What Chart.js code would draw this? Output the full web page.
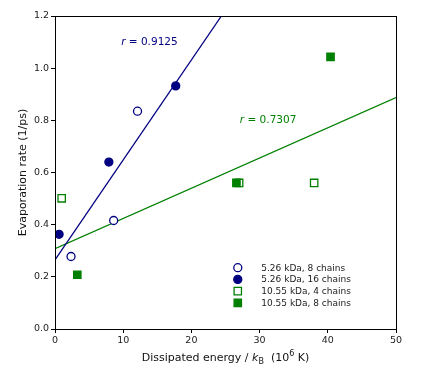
<!DOCTYPE html>
<html>
<head>
<meta charset="utf-8">
<script src="https://cdn.jsdelivr.net/npm/chart.js@4"></script>
<style>
  html, body { margin: 0; padding: 0; background: #fff; }
  #wrap { width: 423px; height: 373px; }
</style>
</head>
<body>
<div id="wrap"><canvas id="evapChart" width="423" height="373"></canvas></div>
<script>
// energies (10^6 K) and evaporation rates (1/ps) per system
const small8X = [2.35, 8.6, 12.1];
const small8Y = [0.278, 0.416, 0.835];
const small16X = [0.6, 7.9, 17.7];
const small16Y = [0.363, 0.640, 0.932];
const large4X = [0.98, 27.0, 38.0];
const large4Y = [0.501, 0.560, 0.560];
const large8X = [3.27, 26.6, 40.4];
const large8Y = [0.208, 0.560, 1.043];

// fit line end points
const blueFitX = [0, 24.4];
const blueFitY = [0.265, 1.2];
const greenFitX = [0, 50];
const greenFitY = [0.308, 0.887];

const seriesLabels = ['5.26 kDa, 8 chains', '5.26 kDa, 16 chains', '10.55 kDa, 4 chains', '10.55 kDa, 8 chains'];
const xTicks = [0, 10, 20, 30, 40, 50];
const yTicks = [0.0, 0.2, 0.4, 0.6, 0.8, 1.0, 1.2];

const NAVY = '#000080';
const GREEN = '#008000';
const FONT = "'DejaVu Sans', sans-serif";

function pts(xs, ys) {
    return xs.map((x, i) => ({x: x, y: ys[i]}));
}

window.addEventListener('load', function() {
    scatterGraph();
});

function scatterGraph() {

    const frame = {
        id: 'frame',
        afterDraw(chart) {
            const ctx = chart.ctx;
            const a = chart.chartArea;
            ctx.save();
            ctx.strokeStyle = '#000';
            ctx.lineWidth = 1;
            ctx.strokeRect(a.left + 0.5, a.top + 0.5, a.right - a.left, a.bottom - a.top);

            // r annotations
            const xs = chart.scales.x, ys = chart.scales.y;
            function rText(label, x, y, color) {
                ctx.fillStyle = color;
                ctx.textBaseline = 'middle';
                ctx.textAlign = 'left';
                ctx.font = 'italic 10.5px ' + FONT;
                const w1 = ctx.measureText('r').width;
                ctx.fillText('r', x, y);
                ctx.font = '10.5px ' + FONT;
                ctx.fillText(' = ' + label, x + w1, y);
            }
            rText('0.9125', xs.getPixelForValue(9.7), ys.getPixelForValue(1.1), NAVY);
            rText('0.7307', xs.getPixelForValue(27.1), ys.getPixelForValue(0.8), GREEN);

            // legend
            const lx = xs.getPixelForValue(26.8);
            let ly = ys.getPixelForValue(0.235);
            chart.data.datasets.filter(d => d.legendRow !== undefined).forEach(d => {
                const y = ly + d.legendRow * 11.7;
                ctx.save();
                ctx.strokeStyle = d.borderColor;
                ctx.fillStyle = d.backgroundColor;
                ctx.lineWidth = d.borderWidth;
                Chart.helpers.drawPoint(ctx, {pointStyle: d.pointStyle, radius: d.pointRadius, borderWidth: d.borderWidth}, lx, y);
                ctx.restore();
                ctx.fillStyle = '#222';
                ctx.font = '9px ' + FONT;
                ctx.textAlign = 'left';
                ctx.textBaseline = 'middle';
                ctx.fillText(d.label, lx + 23.5, y + 0.5);
            });

            // axis titles
            ctx.fillStyle = '#111';
            ctx.textBaseline = 'alphabetic';
            ctx.textAlign = 'left';
            const parts = [
                ['Dissipated energy / ', '11px ' + FONT, 0],
                ['k', 'italic 11px ' + FONT, 0],
                ['B', '8px ' + FONT, 3],
                ['  (10', '11px ' + FONT, 0],
                ['6', '8px ' + FONT, -5],
                [' K)', '11px ' + FONT, 0]
            ];
            let total = 0;
            parts.forEach(p => { ctx.font = p[1]; total += ctx.measureText(p[0]).width; });
            let cx = (a.left + a.right) / 2 - total / 2;
            parts.forEach(p => {
                ctx.font = p[1];
                ctx.fillText(p[0], cx, 361 + p[2]);
                cx += ctx.measureText(p[0]).width;
            });

            ctx.translate(26, (a.top + a.bottom) / 2);
            ctx.rotate(-Math.PI / 2);
            ctx.textAlign = 'center';
            ctx.font = '11px ' + FONT;
            ctx.fillText('Evaporation rate (1/ps)', 0, 0);
            ctx.restore();
        }
    };

    const ctx = document.getElementById('evapChart').getContext('2d');
    const myChart = new Chart(ctx, {
        type: 'scatter',
        data: {
            datasets: [
                {
                    label: seriesLabels[0],
                    data: pts(small8X, small8Y),
                    pointStyle: 'circle',
                    pointRadius: 4,
                    borderWidth: 1.3,
                    borderColor: NAVY,
                    backgroundColor: '#fff',
                    legendRow: 0,
                    order: 1,
                },
                {
                    label: seriesLabels[1],
                    data: pts(small16X, small16Y),
                    pointStyle: 'circle',
                    pointRadius: 4,
                    borderWidth: 1.3,
                    borderColor: NAVY,
                    backgroundColor: NAVY,
                    legendRow: 1,
                    order: 1,
                },
                {
                    label: seriesLabels[2],
                    data: pts(large4X, large4Y),
                    pointStyle: 'rect',
                    pointRadius: 5.2,
                    borderWidth: 1.3,
                    borderColor: GREEN,
                    backgroundColor: '#fff',
                    legendRow: 2,
                    order: 2,
                },
                {
                    label: seriesLabels[3],
                    data: pts(large8X, large8Y),
                    pointStyle: 'rect',
                    pointRadius: 5.2,
                    borderWidth: 1.3,
                    borderColor: GREEN,
                    backgroundColor: GREEN,
                    legendRow: 3,
                    order: 1,
                },
                {
                    label: 'fit 1',
                    type: 'line',
                    data: pts(blueFitX, blueFitY),
                    borderColor: NAVY,
                    borderWidth: 1.3,
                    pointRadius: 0,
                    order: 3,
                },
                {
                    label: 'fit 2',
                    type: 'line',
                    data: pts(greenFitX, greenFitY),
                    borderColor: GREEN,
                    borderWidth: 1.3,
                    pointRadius: 0,
                    order: 3,
                }
            ]
        },
        options: {
            responsive: false,
            animation: false,
            layout: {padding: {top: 16, right: 27, left: 0, bottom: 0}},
            plugins: {
                legend: {display: false},
                title: {display: false},
                tooltip: {enabled: false},
            },
            scales: {
                x: {
                    type: 'linear',
                    min: 0,
                    max: 50,
                    afterFit: s => { s.height = 44; },
                    afterBuildTicks: s => { s.ticks = xTicks.map(v => ({value: v})); },
                    grid: {display: true, drawOnChartArea: false, drawTicks: true, tickLength: 4, color: '#000'},
                    border: {display: true, color: '#000'},
                    ticks: {
                        padding: 2,
                        font: {family: FONT, size: 9.5},
                        color: '#222',
                        maxRotation: 0,
                    }
                },
                y: {
                    type: 'linear',
                    min: 0,
                    max: 1.2,
                    afterFit: s => { s.width = 55; },
                    afterBuildTicks: s => { s.ticks = yTicks.map(v => ({value: v})); },
                    grid: {display: true, drawOnChartArea: false, drawTicks: true, tickLength: 4, color: '#000'},
                    border: {display: true, color: '#000'},
                    ticks: {
                        padding: 2,
                        font: {family: FONT, size: 9.5},
                        color: '#222',
                        callback: v => v.toFixed(1),
                    }
                }
            }
        },
        plugins: [frame]
    });

}
</script>
</body>
</html>
